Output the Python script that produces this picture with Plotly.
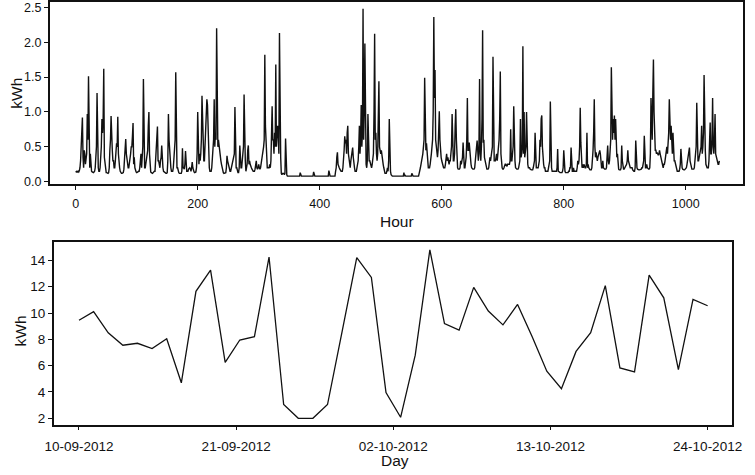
import plotly.graph_objects as go

# ---------------- data ----------------
# Hourly consumption (kWh), 44 days x 24 hours
hourly_kwh = [
    0.15,0.14,0.15,0.14,0.15,0.14,0.16,0.2, 0.3,0.45,0.6,0.92, 0.35,0.2,0.45,0.4,0.25,0.3, 0.4,0.97,0.6,1.51,0.5,0.2,
    0.4,0.2,0.15,0.14,0.13,0.13,0.14,0.15, 0.2,0.3,0.5,1.27, 0.4,0.2,0.15,0.15,0.2,0.3, 0.5,0.9,0.7,0.9,1.62,0.35,
    0.25,0.15,0.13,0.13,0.12,0.12,0.13,0.2, 0.45,0.6,0.94,0.5, 0.45,0.3,0.3,0.2,0.2,0.3, 0.45,0.55,0.5,0.93,0.4,0.2,
    0.2,0.15,0.13,0.12,0.12,0.12,0.13,0.18, 0.3,0.45,0.61,0.4, 0.3,0.25,0.2,0.2,0.25,0.3, 0.4,0.5,0.5,0.65,0.84,0.25,
    0.35,0.2,0.15,0.14,0.13,0.13,0.14,0.15, 0.15,0.2,0.3,0.4, 0.2,0.3,0.5,1.47,0.3,0.2, 0.2,0.25,0.3,0.35,0.45,0.8,
    1.0,0.4,0.2,0.14,0.13,0.12,0.12,0.13, 0.15,0.15,0.15,0.3, 0.35,0.5,0.79,0.3,0.3,0.25, 0.2,0.3,0.35,0.52,0.3,0.2,
    0.15,0.14,0.13,0.13,0.12,0.12,0.13,0.3, 0.97,0.6,0.4,0.25, 0.2,0.15,0.15,0.15,0.2,0.3, 0.4,0.6,1.57,0.5,0.2,0.2,
    0.15,0.13,0.12,0.12,0.12,0.12,0.15,0.48, 0.2,0.2,0.18,0.25, 0.44,0.2,0.15,0.15,0.15,0.18, 0.2,0.2,0.18,0.15,0.2,0.28,
    0.2,0.15,0.14,0.13,0.13,0.14,0.2,0.4, 1.0,0.6,0.25,0.4, 0.3,0.4,0.6,1.23,0.8,0.5, 0.3,0.3,0.5,0.7,1.1,1.18,
    1.1,0.6,0.3,0.2,0.15,0.15,0.15,0.2, 0.4,0.6,0.6,1.18, 0.5,0.7,0.6,2.2,0.6,0.5, 0.6,0.5,0.45,0.4,0.3,0.25,
    0.2,0.15,0.13,0.12,0.12,0.12,0.13,0.2, 0.37,0.3,0.25,0.2, 0.18,0.15,0.15,0.2,0.25,0.3, 0.35,0.4,0.4,1.07,0.3,0.2,
    0.2,0.15,0.13,0.13,0.2,0.52,0.3,0.2, 0.2,0.3,0.5,0.5, 1.25,0.5,0.3,0.15,0.2,0.25, 0.45,0.52,0.25,0.3,0.25,0.2,
    0.2,0.18,0.16,0.15,0.15,0.15,0.18,0.22, 0.3,0.2,0.18,0.2, 0.25,0.2,0.18,0.2,0.25,0.3, 0.37,0.45,0.5,0.6,1.82,0.8,
    0.59,0.3,0.2,0.2,0.2,0.2,0.25,0.2, 0.3,0.6,1.08,0.6, 0.6,0.4,0.7,0.5,1.68,0.5, 0.6,0.8,0.7,0.4,2.13,0.5,
    0.35,0.12,0.1,0.12,0.12,0.12,0.1,0.12, 0.62,0.2,0.1,0.08, 0.08,0.08,0.08,0.08,0.08,0.08, 0.08,0.08,0.08,0.08,0.08,0.08,
    0.08,0.08,0.08,0.08,0.08,0.08,0.08,0.08, 0.13,0.08,0.08,0.08, 0.08,0.08,0.08,0.08,0.08,0.08, 0.08,0.08,0.08,0.08,0.08,0.08,
    0.08,0.08,0.08,0.08,0.08,0.08,0.14,0.08, 0.08,0.08,0.08,0.08, 0.08,0.08,0.08,0.08,0.08,0.08, 0.08,0.08,0.08,0.08,0.08,0.08,
    0.08,0.08,0.08,0.08,0.08,0.08,0.08,0.16, 0.08,0.08,0.08,0.08, 0.08,0.08,0.08,0.08,0.08,0.08, 0.15,0.2,0.35,0.42,0.25,0.2,
    0.2,0.18,0.15,0.15,0.15,0.15,0.2,0.3, 0.45,0.65,0.55,0.6, 0.4,0.7,0.8,0.4,0.3,0.2, 0.2,0.3,0.35,0.4,0.49,0.35,
    0.2,0.2,0.15,0.15,0.15,0.2,0.25,0.3, 0.5,0.8,0.4,0.6, 1.1,0.5,0.7,2.48,0.6,1.0, 1.98,0.4,0.25,0.2,0.3,0.97,
    0.4,0.3,0.3,0.25,0.2,0.2,0.25,0.3, 0.4,1.0,2.12,0.6, 0.7,0.4,0.3,0.4,0.8,1.44, 0.5,0.4,0.4,0.45,0.35,0.3,
    0.25,0.2,0.15,0.12,0.12,0.12,0.15,0.2, 0.15,0.3,0.9,0.3, 0.15,0.1,0.08,0.08,0.08,0.08, 0.08,0.08,0.08,0.08,0.08,0.08,
    0.08,0.08,0.08,0.08,0.08,0.08,0.08,0.08, 0.08,0.08,0.13,0.08, 0.09,0.08,0.08,0.09,0.08,0.08, 0.09,0.08,0.08,0.08,0.08,0.12,
    0.08,0.08,0.08,0.08,0.08,0.08,0.08,0.08, 0.08,0.08,0.08,0.12, 0.15,0.2,0.25,0.3,0.3,0.4, 0.5,0.6,1.49,0.6,0.45,0.55,
    0.4,0.25,0.2,0.2,0.2,0.25,0.3,0.4, 0.5,0.6,1.0,2.36, 1.2,1.6,0.6,0.5,0.4,0.35, 0.45,0.75,1.01,0.6,0.4,0.35,
    0.3,0.25,0.2,0.2,0.2,0.2,0.25,0.3, 0.4,0.3,0.35,0.3, 0.25,0.3,0.3,0.4,0.5,0.97, 0.35,0.3,0.3,0.4,0.8,1.04,
    0.6,0.3,0.2,0.18,0.18,0.18,0.2,0.3, 0.25,0.3,0.35,0.56, 0.25,0.2,0.2,0.25,0.35,0.6, 1.2,0.45,0.45,0.56,0.4,0.3,
    0.25,0.2,0.18,0.18,0.18,0.18,0.2,0.3, 0.4,0.5,0.59,0.45, 0.3,0.5,1.47,0.4,0.3,0.5, 0.9,2.17,0.56,0.6,0.35,0.3,
    0.3,0.2,0.18,0.18,0.18,0.2,0.25,0.35, 0.3,0.35,0.4,0.5, 1.79,0.68,0.3,0.3,0.3,0.35, 0.4,0.3,0.4,0.5,0.6,0.9,
    1.58,0.4,0.2,0.2,0.18,0.18,0.2,0.25, 0.25,0.25,0.22,0.22, 0.25,0.25,0.25,0.25,0.3,0.75, 0.3,0.3,0.4,0.5,1.08,0.4,
    0.3,0.2,0.18,0.18,0.18,0.18,0.2,0.25, 0.3,0.9,0.35,0.4, 0.5,1.94,0.4,1.0,0.35,0.4, 0.5,1.0,0.3,0.25,0.2,0.2,
    0.2,0.18,0.17,0.17,0.17,0.17,0.2,0.3, 0.3,0.7,0.3,0.2, 0.2,0.2,0.2,0.25,0.3,0.6, 0.5,0.9,0.95,0.5,0.3,0.25,
    0.2,0.2,0.15,0.15,0.15,0.15,0.15,0.2, 0.3,0.3,1.15,0.2, 0.2,0.15,0.15,0.15,0.15,0.15, 0.15,0.15,0.15,0.2,0.47,0.15,
    0.15,0.14,0.13,0.13,0.13,0.13,0.15,0.2, 0.45,0.15,0.15,0.13, 0.13,0.13,0.13,0.13,0.15,0.15, 0.2,0.2,0.49,0.2,0.15,0.15,
    0.2,0.15,0.15,0.15,0.15,0.15,0.2,0.3, 0.25,0.3,0.5,1.06, 0.56,0.3,0.2,0.25,0.2,0.25, 0.2,0.2,0.2,0.25,0.7,0.2,
    0.25,0.2,0.17,0.17,0.17,0.17,0.2,0.3, 0.45,0.7,1.18,0.5, 0.35,0.42,0.3,0.3,0.35,0.4, 0.42,0.45,0.4,0.25,0.2,0.2,
    0.3,0.2,0.18,0.18,0.18,0.18,0.2,0.3, 0.52,0.3,0.25,0.3, 0.4,0.6,1.64,0.95,0.6,0.9, 0.7,0.95,0.6,0.9,0.45,0.35,
    0.4,0.25,0.18,0.17,0.17,0.17,0.2,0.52, 0.3,0.2,0.18,0.18, 0.2,0.2,0.22,0.25,0.3,0.45, 0.3,0.25,0.22,0.2,0.2,0.2,
    0.2,0.17,0.15,0.15,0.15,0.2,0.59,0.3, 0.2,0.18,0.17,0.17, 0.17,0.17,0.17,0.18,0.2,0.2, 0.25,0.3,0.66,0.2,0.2,0.2,
    0.25,0.2,0.18,0.18,0.18,0.2,0.4,1.2, 0.9,0.6,1.27,1.75, 1.0,0.47,0.45,0.45,0.4,0.42, 0.4,0.38,0.4,0.45,0.4,0.35,
    0.35,0.3,0.2,0.2,0.25,0.25,0.3,0.4, 0.45,0.5,0.4,0.5, 0.7,1.18,0.94,0.6,0.8,0.5, 0.4,0.7,0.4,0.3,0.3,0.25,
    0.2,0.17,0.15,0.15,0.15,0.15,0.18,0.25, 0.47,0.3,0.2,0.18, 0.17,0.17,0.17,0.18,0.2,0.2, 0.25,0.3,0.35,0.4,0.49,0.3,
    0.25,0.2,0.18,0.18,0.18,0.18,0.2,0.3, 0.5,0.5,1.13,0.47, 0.3,0.3,0.35,0.35,0.4,0.5, 0.8,0.4,0.5,0.7,1.53,0.47,
    0.45,0.25,0.2,0.2,0.2,0.2,0.3,0.5, 0.85,0.4,0.4,0.6, 1.2,0.5,0.4,0.6,0.97,0.4, 0.35,0.3,0.25,0.25,0.25,0.3,
]
hours = list(range(len(hourly_kwh)))
hour_ticks = [0, 200, 400, 600, 800, 1000]

# Daily consumption (kWh)
daily_kwh = [9.45, 10.1, 8.5, 7.55, 7.7, 7.3, 8.05, 4.7, 11.65, 13.25,
             6.25, 7.95, 8.2, 14.25, 3.05, 2.0, 2.0, 3.05, 8.6, 14.2,
             12.7, 3.95, 2.08, 6.8, 14.8, 9.2, 8.7, 11.95, 10.15, 9.1,
             10.65, 8.2, 5.58, 4.25, 7.08, 8.5, 12.08, 5.83, 5.53, 12.88,
             11.15, 5.7, 11.03, 10.55]
days = list(range(len(daily_kwh)))
day_tick_pos = [0, 10.75, 21.5, 32.25, 43]
day_tick_labels = ["10-09-2012", "21-09-2012", "02-10-2012", "13-10-2012", "24-10-2012"]
kwh_ticks_top = [0.0, 0.5, 1.0, 1.5, 2.0, 2.5]
kwh_ticks_bottom = [2, 4, 6, 8, 10, 12, 14]

# ---------------- figure ----------------
W, H = 755, 475
FONT = "Liberation Sans, Arial, Helvetica, sans-serif"
INK = "#111111"

fig = go.Figure()
fig.add_trace(go.Scatter(x=hours, y=hourly_kwh, mode="lines",
                         line=dict(color="#111111", width=1.4),
                         xaxis="x", yaxis="y", showlegend=False))
fig.add_trace(go.Scatter(x=days, y=daily_kwh, mode="lines",
                         line=dict(color="#111111", width=1.3),
                         xaxis="x2", yaxis="y2", showlegend=False))

axis_common = dict(showline=True, mirror=True, linecolor=INK, linewidth=1.5,
                   ticks="outside", ticklen=4, tickwidth=1, tickcolor=INK,
                   showgrid=False, zeroline=False,
                   tickfont=dict(family=FONT, size=12.5, color=INK))

fig.update_layout(
    width=W, height=H,
    margin=dict(l=0, r=0, t=0, b=0),
    paper_bgcolor="white", plot_bgcolor="white",
    xaxis=dict(axis_common, domain=[41.7 / W, 752.3 / W], anchor="y",
               range=[-42.6, 1094.4], tickvals=hour_ticks,
               ticktext=[str(t) for t in hour_ticks], ticklabelstandoff=3),
    yaxis=dict(axis_common, domain=[1 - 185.3 / H, 1 - 0.8 / H], anchor="x",
               range=[-0.032, 2.578], tickvals=kwh_ticks_top,
               ticktext=[f"{t:.1f}" for t in kwh_ticks_top]),
    xaxis2=dict(axis_common, domain=[45.7 / W, 741 / W], anchor="y2",
                range=[-1.736, 44.69], tickvals=day_tick_pos,
                ticktext=day_tick_labels, ticklabelstandoff=4,
                tickfont=dict(family=FONT, size=13.5, color=INK)),
    yaxis2=dict(axis_common, domain=[1 - 429 / H, 1 - 244 / H], anchor="x2",
                range=[1.525, 15.4], tickvals=kwh_ticks_bottom,
                ticktext=[str(t) for t in kwh_ticks_bottom],
                tickfont=dict(family=FONT, size=13.5, color=INK)),
)

def label(text, px, py, angle=0):
    fig.add_annotation(text=text, x=px / W, y=1 - py / H, xref="paper", yref="paper",
                       showarrow=False, textangle=angle, xanchor="center", yanchor="middle",
                       font=dict(family=FONT, size=15.5, color=INK))

label("kWh", 8, 93, -90)
label("Hour", 397, 223)
label("kWh", 12, 334, -90)
label("Day", 395, 465)

fig.write_html("out.html")
